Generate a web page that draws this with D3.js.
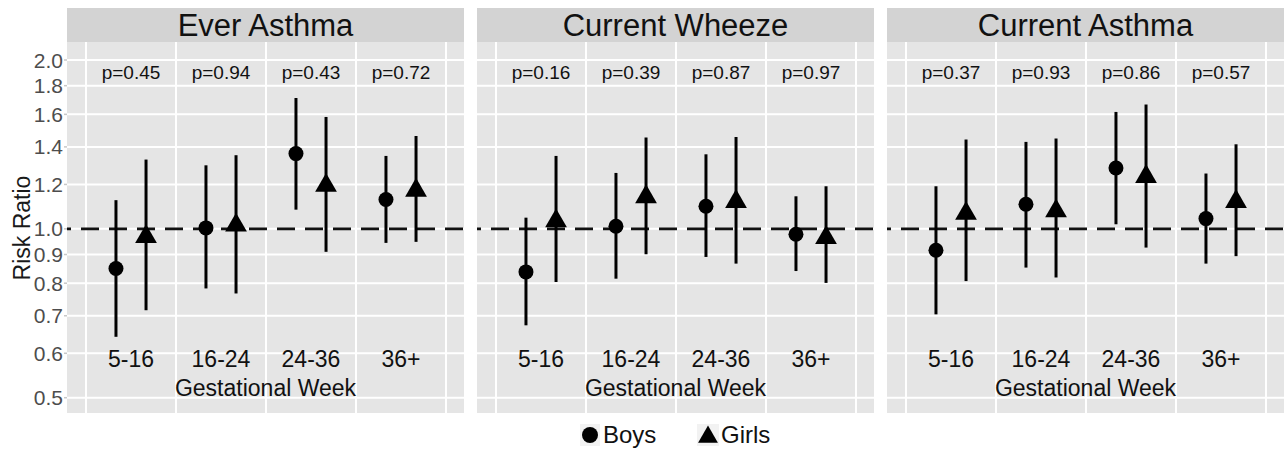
<!DOCTYPE html>
<html>
<head>
<meta charset="utf-8">
<script src="https://cdn.jsdelivr.net/npm/d3@7"></script>
<style>
  body { margin: 0; background: #fff; }
  svg { display: block; font-family: "Liberation Sans", Arial, sans-serif; }
</style>
</head>
<body>
<svg id="svg1" width="1287" height="451"></svg>
<script>
// data
var outcomes = ['Ever Asthma', 'Current Wheeze', 'Current Asthma'];
var weeks = ['5-16', '16-24', '24-36', '36+'];
var yTicks = [0.5, 0.6, 0.7, 0.8, 0.9, 1.0, 1.2, 1.4, 1.6, 1.8, 2.0];

var pValues = [
    ['p=0.45', 'p=0.94', 'p=0.43', 'p=0.72'],
    ['p=0.16', 'p=0.39', 'p=0.87', 'p=0.97'],
    ['p=0.37', 'p=0.93', 'p=0.86', 'p=0.57']
];

var boysRR = [[0.850, 1.004, 1.362, 1.128], [0.838, 1.011, 1.097, 0.978], [0.916, 1.106, 1.284, 1.043]];
var boysLo = [[0.642, 0.783, 1.082, 0.944], [0.673, 0.815, 0.891, 0.841], [0.704, 0.853, 1.019, 0.867]];
var boysHi = [[1.125, 1.298, 1.711, 1.349], [1.047, 1.258, 1.358, 1.143], [1.191, 1.429, 1.616, 1.255]];

var girlsRR = [[0.968, 1.015, 1.195, 1.171], [1.033, 1.140, 1.118, 0.964], [1.065, 1.076, 1.239, 1.118]];
var girlsLo = [[0.716, 0.767, 0.910, 0.948], [0.804, 0.901, 0.867, 0.801], [0.807, 0.819, 0.926, 0.894]];
var girlsHi = [[1.329, 1.353, 1.583, 1.464], [1.349, 1.455, 1.458, 1.191], [1.443, 1.449, 1.666, 1.415]];

var svg = d3.select('svg');

var panelW = 397;
var panelLefts = [67, 477, 887];
var stripTop = 8, panelTop = 42, panelBottom = 413;
var dodge = 0.167;

// log y scale shared by all panels
var y = d3.scaleLog().domain([0.5, 2]).range([397.7, 60]);
// x: group index 1..4, gridlines at the half-steps
var x = d3.scaleLinear().domain([0.5, 4.5]).range([19, 379]);

var triangle = d3.symbol().type(d3.symbolTriangle).size(205);

// y axis labels (left of first panel)
svg.append('g').selectAll('text')
    .data(yTicks)
    .enter()
    .append('text')
    .attr('x', 63)
    .attr('y', function(d){ return y(d); })
    .attr('dy', '0.36em')
    .attr('text-anchor', 'end')
    .attr('font-size', 21)
    .attr('fill', '#4d4d4d')
    .text(function(d){ return d.toFixed(1); });

svg.append('g').selectAll('line')
    .data(yTicks)
    .enter()
    .append('line')
    .attr('x1', 64).attr('x2', 67)
    .attr('y1', function(d){ return y(d); })
    .attr('y2', function(d){ return y(d); })
    .attr('stroke', '#c8c8c8')
    .attr('stroke-width', 1.5);

svg.append('text')
    .attr('transform', 'translate(30,228) rotate(-90)')
    .attr('text-anchor', 'middle')
    .attr('font-size', 23)
    .attr('fill', '#1a1a1a')
    .text('Risk Ratio');

outcomes.forEach(function(name, i){
    var g = svg.append('g')
        .attr('transform', 'translate(' + panelLefts[i] + ',0)');

    // strip
    g.append('rect')
        .attr('x', 0).attr('y', stripTop)
        .attr('width', panelW).attr('height', panelTop - stripTop)
        .attr('fill', '#d3d3d3');
    g.append('text')
        .attr('x', panelW / 2).attr('y', 36)
        .attr('text-anchor', 'middle')
        .attr('font-size', 31)
        .attr('fill', '#111')
        .text(name);

    // panel background
    g.append('rect')
        .attr('x', 0).attr('y', panelTop)
        .attr('width', panelW).attr('height', panelBottom - panelTop)
        .attr('fill', '#e5e5e5');

    // gridlines
    g.append('g').selectAll('line')
        .data(yTicks)
        .enter()
        .append('line')
        .attr('x1', 0).attr('x2', panelW)
        .attr('y1', function(d){ return y(d); })
        .attr('y2', function(d){ return y(d); })
        .attr('stroke', '#fff')
        .attr('stroke-width', 2);

    g.append('g').selectAll('line')
        .data([0.5, 1.5, 2.5, 3.5, 4.5])
        .enter()
        .append('line')
        .attr('x1', function(d){ return x(d); })
        .attr('x2', function(d){ return x(d); })
        .attr('y1', panelTop).attr('y2', panelBottom)
        .attr('stroke', '#fff')
        .attr('stroke-width', 2);

    // reference line at 1.0
    g.append('line')
        .attr('x1', 0).attr('x2', panelW)
        .attr('y1', y(1)).attr('y2', y(1))
        .attr('stroke', '#111')
        .attr('stroke-width', 2.8)
        .attr('stroke-dasharray', '18,10')
        .attr('stroke-dashoffset', 14);

    // p values
    g.append('g').selectAll('text')
        .data(pValues[i])
        .enter()
        .append('text')
        .attr('x', function(d, j){ return x(j + 1); })
        .attr('y', 79)
        .attr('text-anchor', 'middle')
        .attr('font-size', 19)
        .attr('fill', '#111')
        .text(function(d){ return d; });

    // week labels inside the panel
    g.append('g').selectAll('text')
        .data(weeks)
        .enter()
        .append('text')
        .attr('x', function(d, j){ return x(j + 1); })
        .attr('y', 367)
        .attr('text-anchor', 'middle')
        .attr('font-size', 23)
        .attr('fill', '#111')
        .text(function(d){ return d; });

    g.append('text')
        .attr('x', panelW / 2).attr('y', 396)
        .attr('text-anchor', 'middle')
        .attr('font-size', 23)
        .attr('fill', '#111')
        .text('Gestational Week');

    // error bars
    g.append('g').selectAll('line')
        .data(weeks)
        .enter()
        .append('line')
        .attr('x1', function(d, j){ return x(j + 1 - dodge); })
        .attr('x2', function(d, j){ return x(j + 1 - dodge); })
        .attr('y1', function(d, j){ return y(boysLo[i][j]); })
        .attr('y2', function(d, j){ return y(boysHi[i][j]); })
        .attr('stroke', '#000')
        .attr('stroke-width', 3);

    g.append('g').selectAll('line')
        .data(weeks)
        .enter()
        .append('line')
        .attr('x1', function(d, j){ return x(j + 1 + dodge); })
        .attr('x2', function(d, j){ return x(j + 1 + dodge); })
        .attr('y1', function(d, j){ return y(girlsLo[i][j]); })
        .attr('y2', function(d, j){ return y(girlsHi[i][j]); })
        .attr('stroke', '#000')
        .attr('stroke-width', 3);

    // points
    g.append('g').selectAll('circle')
        .data(boysRR[i])
        .enter()
        .append('circle')
        .attr('cx', function(d, j){ return x(j + 1 - dodge); })
        .attr('cy', function(d){ return y(d); })
        .attr('r', 7.5)
        .attr('fill', '#000');

    g.append('g').selectAll('path')
        .data(girlsRR[i])
        .enter()
        .append('path')
        .attr('d', triangle)
        .attr('transform', function(d, j){
            return 'translate(' + x(j + 1 + dodge) + ',' + y(d) + ')';
        })
        .attr('fill', '#000');
});

// legend
var legend = svg.append('g');
legend.append('rect')
    .attr('x', 580).attr('y', 424).attr('width', 20).attr('height', 22)
    .attr('fill', '#f2f2f2');
legend.append('circle')
    .attr('cx', 590).attr('cy', 435).attr('r', 8)
    .attr('fill', '#000');
legend.append('text')
    .attr('x', 603).attr('y', 443)
    .attr('font-size', 24)
    .attr('fill', '#111')
    .text('Boys');
legend.append('rect')
    .attr('x', 697).attr('y', 424).attr('width', 22).attr('height', 22)
    .attr('fill', '#f2f2f2');
legend.append('path')
    .attr('d', d3.symbol().type(d3.symbolTriangle).size(170))
    .attr('transform', 'translate(708,437)')
    .attr('fill', '#000');
legend.append('text')
    .attr('x', 721).attr('y', 443)
    .attr('font-size', 24)
    .attr('fill', '#111')
    .text('Girls');
</script>
</body>
</html>
